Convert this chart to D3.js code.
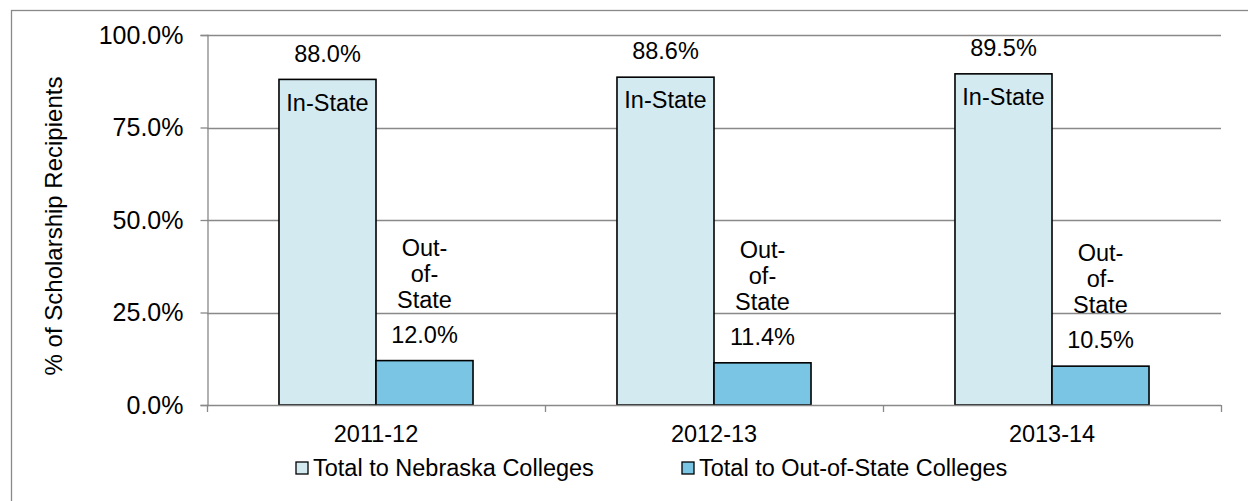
<!DOCTYPE html>
<html>
<head>
<meta charset="utf-8">
<script src="https://cdn.jsdelivr.net/npm/d3@7"></script>
<style>
  html, body { margin: 0; padding: 0; background: #fff; }
  svg { display: block; }
  text { font-family: "Liberation Sans", Arial, sans-serif; fill: #000; }
</style>
</head>
<body>
<svg id="chart" width="1248" height="501"></svg>
<script>
// ---- data ----
const categories = ["2011-12", "2012-13", "2013-14"];
const seriesNames = ["Total to Nebraska Colleges", "Total to Out-of-State Colleges"];
const inState = [88.0, 88.6, 89.5];
const outState = [12.0, 11.4, 10.5];
const yTicks = [0, 25, 50, 75, 100];
const yTickLabels = ["0.0%", "25.0%", "50.0%", "75.0%", "100.0%"];
const barNameLabels = [["In-State"], ["Out-", "of-", "State"]];
const seriesColors = ["#D3EAF1", "#7AC5E3"];

const FONT = 23.5;
const svg = d3.select("#chart");

// outer chart border
svg.append("rect")
  .attr("x", 11.5).attr("y", 10.5)
  .attr("width", 1400).attr("height", 700)
  .attr("fill", "none").attr("stroke", "#898989").attr("stroke-width", 1.3);

const plot = { left: 207, right: 1221, top: 35, bottom: 405 };

const y = d3.scaleLinear().domain([0, 100]).range([plot.bottom, plot.top]);
const x0 = d3.scaleBand().domain(categories).range([plot.left, plot.right]).paddingInner(0).paddingOuter(0);
const x1 = d3.scaleBand().domain([0, 1]).range([0, x0.bandwidth()]).paddingInner(0).paddingOuter(0.742);

// gridlines
svg.append("g").selectAll("line").data(yTicks.filter(d => d > 0)).join("line")
  .attr("x1", plot.left).attr("x2", plot.right)
  .attr("y1", d => Math.round(y(d)) + 0.5).attr("y2", d => Math.round(y(d)) + 0.5)
  .attr("stroke", "#898989").attr("stroke-width", 1.3);

// y axis
const yAxis = d3.axisLeft(y).tickValues(yTicks).tickSize(7).tickPadding(17)
  .tickFormat((d, i) => yTickLabels[i]);
const gy = svg.append("g").attr("transform", `translate(${plot.left + 0.5},0)`).call(yAxis);
gy.select(".domain").attr("stroke", "#898989").attr("stroke-width", 1.3);
gy.selectAll(".tick line").attr("stroke", "#898989").attr("stroke-width", 1.3);
gy.selectAll(".tick text").attr("font-size", 25).attr("font-family", '"Liberation Sans", Arial, sans-serif').attr("fill", "#000");

// y axis title
svg.append("text")
  .attr("transform", `translate(62,${(plot.top + plot.bottom) / 2 + 6}) rotate(-90)`)
  .attr("text-anchor", "middle")
  .attr("font-size", 24)
  .text("% of Scholarship Recipients");

// bars
const values = [inState, outState];
const groups = svg.append("g").selectAll("g").data(categories).join("g")
  .attr("transform", d => `translate(${x0(d)},0)`);

groups.each(function (cat, ci) {
  const g = d3.select(this);
  [0, 1].forEach(si => {
    const v = values[si][ci];
    const bx = x1(si);
    const bw = x1.bandwidth();
    g.append("rect")
      .attr("x", bx).attr("y", y(v))
      .attr("width", bw).attr("height", y(0) - y(v))
      .attr("fill", seriesColors[si])
      .attr("stroke", "#000").attr("stroke-width", 1.6);
    const cx = bx + bw / 2;
    // value label
    g.append("text")
      .attr("x", cx).attr("y", y(v) - 26)
      .attr("dy", "0.35em")
      .attr("text-anchor", "middle")
      .attr("font-size", FONT)
      .text(d3.format(".1f")(v) + "%");
    // name label
    const lines = barNameLabels[si];
    if (si === 0) {
      g.append("text")
        .attr("x", cx).attr("y", y(v) + 23)
        .attr("dy", "0.35em")
        .attr("text-anchor", "middle")
        .attr("font-size", FONT)
        .text(lines[0]);
    } else {
      lines.forEach((ln, li) => {
        g.append("text")
          .attr("x", cx).attr("y", y(v) - 61 - (lines.length - 1 - li) * 26)
          .attr("dy", "0.35em")
          .attr("text-anchor", "middle")
          .attr("font-size", FONT)
          .text(ln);
      });
    }
  });
});

// x axis
const xAxis = d3.axisBottom(x0).tickSize(0).tickPadding(20);
const gx = svg.append("g").attr("transform", `translate(0,${plot.bottom + 0.5})`).call(xAxis);
gx.select(".domain").remove();
gx.selectAll(".tick text").attr("font-size", FONT).attr("font-family", '"Liberation Sans", Arial, sans-serif').attr("fill", "#000");
svg.append("line")
  .attr("x1", plot.left).attr("x2", plot.right)
  .attr("y1", plot.bottom + 0.5).attr("y2", plot.bottom + 0.5)
  .attr("stroke", "#898989").attr("stroke-width", 1.3);
// category boundary ticks
const boundaries = categories.map(c => x0(c)).concat([x0.range()[1]]);
svg.append("g").selectAll("line").data(boundaries).join("line")
  .attr("x1", d => Math.round(d) + 0.5).attr("x2", d => Math.round(d) + 0.5)
  .attr("y1", plot.bottom).attr("y2", plot.bottom + 7)
  .attr("stroke", "#898989").attr("stroke-width", 1.3);

// legend
const legendItems = [
  { x: 296, name: seriesNames[0], color: seriesColors[0] },
  { x: 682, name: seriesNames[1], color: seriesColors[1] }
];
const lg = svg.append("g");
legendItems.forEach(it => {
  lg.append("rect")
    .attr("x", it.x).attr("y", 462)
    .attr("width", 12).attr("height", 12)
    .attr("fill", it.color).attr("stroke", "#000").attr("stroke-width", 1.3);
  lg.append("text")
    .attr("x", it.x + 17).attr("y", 468)
    .attr("dy", "0.35em")
    .attr("font-size", FONT)
    .text(it.name);
});
</script>
</body>
</html>
